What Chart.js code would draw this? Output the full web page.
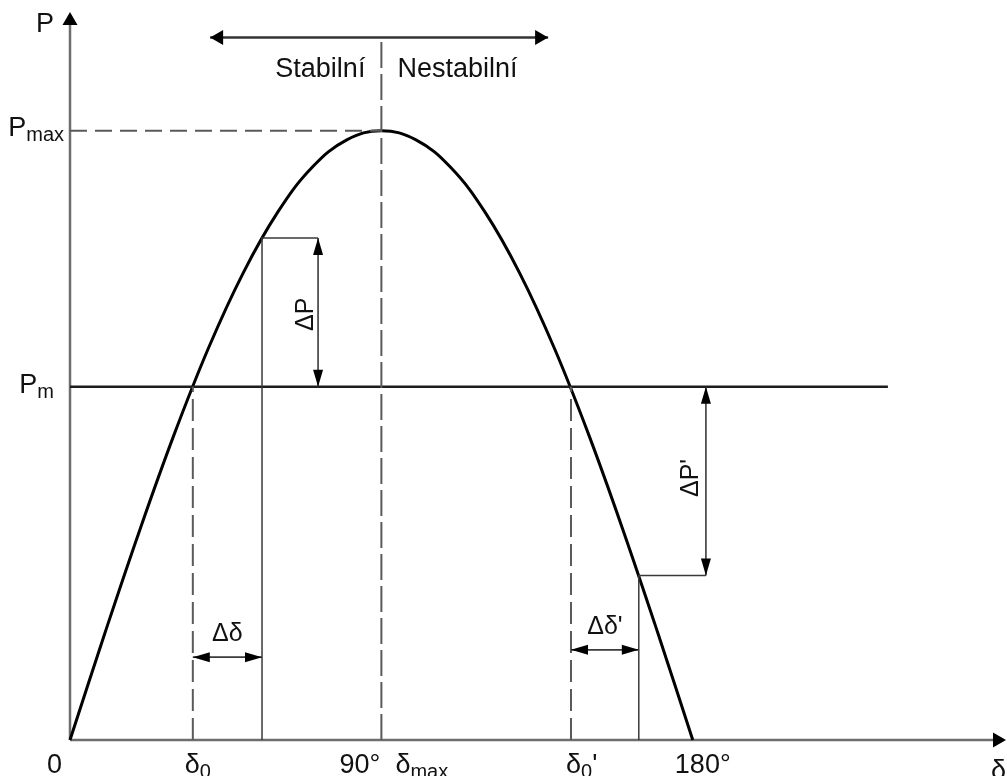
<!DOCTYPE html>
<html>
<head>
<meta charset="utf-8">
<title>P-δ</title>
<script src="https://cdn.jsdelivr.net/npm/chart.js@4/dist/chart.umd.min.js"></script>
<style>
  html, body { margin: 0; padding: 0; background: #fff; }
  #wrap { width: 1007px; height: 776px; }
</style>
</head>
<body>
<div id="wrap"><canvas id="pdChart" width="1007" height="776"></canvas></div>
<script>
// úhlová charakteristika P = f(δ)
const deltaDeg = [0, 10, 20, 30, 40, 50, 60, 70, 80, 90, 100, 110, 120, 130, 140, 150, 160, 170, 180];
const powerP = [0, 0.174, 0.342, 0.5, 0.643, 0.766, 0.866, 0.94, 0.985, 1.0, 0.985, 0.94, 0.866, 0.766, 0.643, 0.5, 0.342, 0.174, 0];

const pMax = 1.0;
const pMech = 0.58;
const delta0 = 35.5;      // δ0
const delta1 = 55.5;      // δ0 + Δδ
const delta0b = 144.8;    // δ0'
const delta1b = 164.4;    // δ0' + Δδ'
const deltaMax = 90;
const pAtDelta1 = 0.824;
const pAtDelta1b = 0.27;

const xAxisEnd = 268.8;
const yAxisEnd = 1.19;
const pmLineEnd = 236.4;

// popisky osy δ
const xTickValues = [0, delta0, deltaMax, deltaMax, delta0b, 180];

const dashCol = '#5a5a5a';
const thinCol = '#3a3a3a';

function seg(x0, y0, x1, y1) {
  return [{x: x0, y: y0}, {x: x1, y: y1}];
}

const datasets = [
  // Pmax čárkovaně
  { data: seg(0, pMax, deltaMax, pMax), borderColor: dashCol, borderWidth: 2, borderDash: [17, 8] },
  // svislice δmax
  { data: seg(deltaMax, 0, deltaMax, 1.153), borderColor: dashCol, borderWidth: 2, borderDash: [26, 6] },
  // svislice δ0, δ0'
  { data: seg(delta0, 0, delta0, pMech), borderColor: dashCol, borderWidth: 2, borderDash: [22, 7] },
  { data: seg(delta0b, 0, delta0b, pMech), borderColor: dashCol, borderWidth: 2, borderDash: [22, 7] },
  // pomocné tenké čáry
  { data: [{x: delta1, y: 0}, {x: delta1, y: pAtDelta1}, {x: 71.7, y: pAtDelta1}], borderColor: thinCol, borderWidth: 1.5 },
  { data: [{x: delta1b, y: 0}, {x: delta1b, y: pAtDelta1b}, {x: 183.8, y: pAtDelta1b}], borderColor: thinCol, borderWidth: 1.5 },
  // Pm
  { data: seg(0, pMech, pmLineEnd, pMech), borderColor: '#1c1c1c', borderWidth: 2.5 },
  // křivka
  { data: deltaDeg.map((d, i) => ({x: d, y: powerP[i]})), borderColor: '#000', borderWidth: 3, tension: 0.4 }
];
datasets.forEach(ds => { ds.pointRadius = 0; ds.fill = false; ds.clip = false; });

function arrowHead(ctx, x, y, ang, len, hw) {
  ctx.save();
  ctx.translate(x, y);
  ctx.rotate(ang);
  ctx.beginPath();
  ctx.moveTo(0, 0);
  ctx.lineTo(-len, -hw);
  ctx.lineTo(-len, hw);
  ctx.closePath();
  ctx.fill();
  ctx.restore();
}

function dimArrow(ctx, x0, y0, x1, y1, len, hw) {
  ctx.beginPath();
  ctx.moveTo(x0, y0);
  ctx.lineTo(x1, y1);
  ctx.stroke();
  const a = Math.atan2(y1 - y0, x1 - x0);
  arrowHead(ctx, x1, y1, a, len, hw);
  arrowHead(ctx, x0, y0, a + Math.PI, len, hw);
}

// text s dolním indexem: parts = [[text, jeIndex], ...]
function richText(ctx, parts, x, y, size, align) {
  const subSize = Math.round(size * 0.74);
  let w = 0;
  parts.forEach(p => {
    ctx.font = (p[1] ? subSize : size) + 'px "Liberation Sans", Arial, sans-serif';
    w += ctx.measureText(p[0]).width;
  });
  let cx = align === 'right' ? x - w : (align === 'center' ? x - w / 2 : x);
  ctx.textAlign = 'left';
  ctx.textBaseline = 'alphabetic';
  parts.forEach(p => {
    ctx.font = (p[1] ? subSize : size) + 'px "Liberation Sans", Arial, sans-serif';
    ctx.fillText(p[0], cx, p[1] ? y + 5 : y);
    cx += ctx.measureText(p[0]).width;
  });
}

const diagramPlugin = {
  id: 'diagram',
  beforeDatasetsDraw(chart) {
    const ctx = chart.ctx;
    const xs = chart.scales.x, ys = chart.scales.y;
    const ox = xs.getPixelForValue(0), oy = ys.getPixelForValue(0);
    ctx.save();
    ctx.strokeStyle = '#6e6e6e';
    ctx.fillStyle = '#000';
    ctx.lineWidth = 2.5;
    ctx.beginPath();
    ctx.moveTo(ox, oy);
    ctx.lineTo(ox, ys.getPixelForValue(yAxisEnd) + 8);
    ctx.moveTo(ox, oy);
    ctx.lineTo(xs.getPixelForValue(xAxisEnd) - 4, oy);
    ctx.stroke();
    arrowHead(ctx, ox, ys.getPixelForValue(yAxisEnd) - 3, -Math.PI / 2, 13, 7.5);
    arrowHead(ctx, xs.getPixelForValue(xAxisEnd) + 6, oy, 0, 13, 7.5);
    ctx.restore();
  },
  afterDatasetsDraw(chart) {
    const ctx = chart.ctx;
    const xs = chart.scales.x, ys = chart.scales.y;
    const px = v => xs.getPixelForValue(v);
    const py = v => ys.getPixelForValue(v);
    ctx.save();
    ctx.fillStyle = '#000';

    // Stabilní / Nestabilní
    ctx.strokeStyle = '#333';
    ctx.lineWidth = 2.5;
    dimArrow(ctx, px(40.5), py(1.153), px(138.2), py(1.153), 13, 7.5);

    // ΔP, ΔP', Δδ, Δδ'
    ctx.lineWidth = 1.6;
    ctx.strokeStyle = thinCol;
    dimArrow(ctx, px(71.7), py(pAtDelta1), px(71.7), py(pMech), 17, 5);
    dimArrow(ctx, px(183.8), py(pMech), px(183.8), py(pAtDelta1b), 17, 5);
    dimArrow(ctx, px(delta0), py(0.136), px(delta1), py(0.136), 17, 5);
    dimArrow(ctx, px(delta0b), py(0.148), px(delta1b), py(0.148), 17, 5);

    ctx.fillStyle = '#111';
    richText(ctx, [['Stabilní', 0]], px(deltaMax) - 16, 77, 27, 'right');
    richText(ctx, [['Nestabilní', 0]], px(deltaMax) + 16, 77, 27, 'left');

    richText(ctx, [['Δδ', 0]], (px(delta0) + px(delta1)) / 2, 641, 25, 'center');
    richText(ctx, [['Δδ\'', 0]], (px(delta0b) + px(delta1b)) / 2, 634, 25, 'center');

    ctx.save();
    ctx.translate(313, (py(pAtDelta1) + py(pMech)) / 2 + 2);
    ctx.rotate(-Math.PI / 2);
    richText(ctx, [['ΔP', 0]], 0, 0, 25, 'center');
    ctx.restore();
    ctx.save();
    ctx.translate(698, 478);
    ctx.rotate(-Math.PI / 2);
    richText(ctx, [['ΔP\'', 0]], 0, 0, 25, 'center');
    ctx.restore();

    // osa P
    richText(ctx, [['P', 0]], 54, 32, 27, 'right');
    richText(ctx, [['P', 0], ['max', 1]], 64, py(pMax) + 5, 27, 'right');
    richText(ctx, [['P', 0], ['m', 1]], 54, py(pMech) + 6, 27, 'right');

    // osa δ
    const by = 773;
    richText(ctx, [['0', 0]], px(xTickValues[0]) - 8, by, 27, 'right');
    richText(ctx, [['δ', 0], ['0', 1]], px(xTickValues[1]) - 8, by, 27, 'left');
    richText(ctx, [['90°', 0]], px(xTickValues[2]) - 1, by, 27, 'right');
    richText(ctx, [['δ', 0], ['max', 1]], px(xTickValues[3]) + 14, by, 27, 'left');
    richText(ctx, [['δ', 0], ['0', 1], ['\'', 0]], px(xTickValues[4]) - 5, by, 27, 'left');
    richText(ctx, [['180°', 0]], px(xTickValues[5]) + 10, by, 27, 'center');
    richText(ctx, [['δ', 0]], 991, 779, 27, 'left');
    ctx.restore();
  }
};

new Chart(document.getElementById('pdChart'), {
  type: 'line',
  data: { datasets: datasets },
  options: {
    responsive: false,
    animation: false,
    events: [],
    layout: { padding: { left: 70, top: 15, right: 7, bottom: 36 } },
    plugins: { legend: { display: false }, tooltip: { enabled: false } },
    scales: {
      x: { type: 'linear', min: 0, max: xAxisEnd, display: false },
      y: { type: 'linear', min: 0, max: yAxisEnd, display: false }
    }
  },
  plugins: [diagramPlugin]
});
</script>
</body>
</html>
